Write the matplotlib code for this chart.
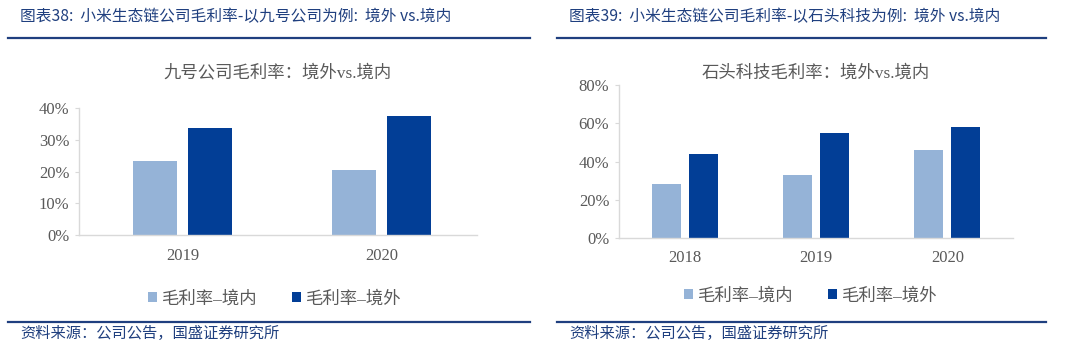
import matplotlib
matplotlib.use('Agg')
import matplotlib.pyplot as plt
from matplotlib.lines import Line2D
from matplotlib.ticker import FuncFormatter, MultipleLocator

plt.rcParams['font.family'] = ['Liberation Serif', 'Noto Sans CJK SC', 'DejaVu Sans']

# data (gross margin, %)
years_l = ['2019', '2020']
domestic_l = [23.2, 20.5]
overseas_l = [33.8, 37.6]

years_r = ['2018', '2019', '2020']
domestic_r = [28.3, 32.7, 46.1]
overseas_r = [43.7, 54.8, 58.0]

header_l = '图表38:  小米生态链公司毛利率-以九号公司为例:  境外 vs.境内'
header_r = '图表39:  小米生态链公司毛利率-以石头科技为例:  境外 vs.境内'
title_l = '九号公司毛利率：境外vs.境内'
title_r = '石头科技毛利率：境外vs.境内'
legend_labels = ['毛利率–境内', '毛利率–境外']
source = '资料来源：公司公告，国盛证券研究所'

LIGHT = '#95B3D7'
DARK = '#023E96'
NAVY = '#1F3F7F'
GREY = '#595959'
AX_GREY = '#D9D9D9'

W, H = 1068, 356
fig = plt.figure(figsize=(W / 100, H / 100), dpi=100)


def px(x0, y_top, x1, y_bot):
    return [x0 / W, 1 - y_bot / H, (x1 - x0) / W, (y_bot - y_top) / H]


def panel(rect, cats, dom, ovs, ymax, step, title, title_y, leg_xy, shift=0.0):
    ax = fig.add_axes(rect)
    n = len(cats)
    xs = list(range(n))
    w = 0.22
    off = 0.14
    b1 = ax.bar([x - off for x in xs], dom, w, color=LIGHT, label=legend_labels[0])
    b2 = ax.bar([x + off for x in xs], ovs, w, color=DARK, label=legend_labels[1])
    ax.set_xlim(-0.5 - shift, n - 0.5 - shift)
    ax.set_ylim(0, ymax)
    ax.yaxis.set_major_locator(MultipleLocator(step))
    ax.yaxis.set_major_formatter(FuncFormatter(lambda v, p: f'{v:.0f}%'))
    ax.set_xticks(xs)
    ax.set_xticklabels(cats)
    for s in ['top', 'right']:
        ax.spines[s].set_visible(False)
    for s in ['left', 'bottom']:
        ax.spines[s].set_color(AX_GREY)
        ax.spines[s].set_linewidth(1.0)
    ax.tick_params(axis='y', length=3, color=AX_GREY, labelsize=12, labelcolor=GREY, pad=4)
    ax.tick_params(axis='x', length=0, labelsize=12, labelcolor=GREY, pad=9)
    cx = rect[0] + rect[2] / 2
    fig.text(cx, 1 - title_y / H, title, ha='center', va='center', fontsize=12.5, color=GREY)
    fig.legend([b1, b2], legend_labels, loc='center', bbox_to_anchor=(leg_xy[0] / W, 1 - leg_xy[1] / H),
               ncol=2, frameon=False, fontsize=12.5, labelcolor=GREY, handlelength=0.5, handleheight=0.5,
               handletextpad=0.3, columnspacing=2.0)
    return ax


panel(px(79, 108, 477, 235), years_l, domestic_l, overseas_l, 40, 10, title_l, 73, (275, 299), shift=0.02)
panel(px(619, 85, 1013, 238), years_r, domestic_r, overseas_r, 80, 20, title_r, 73, (811, 296))

# headers and footers
for (x0, x1, tx, hdr) in [(8, 530, 20, header_l), (557, 1046, 569, header_r)]:
    fig.add_artist(Line2D([x0 / W, x1 / W], [1 - 38 / H, 1 - 38 / H], color=NAVY, lw=1.6))
    fig.add_artist(Line2D([x0 / W, x1 / W], [1 - 322 / H, 1 - 322 / H], color=NAVY, lw=1.6))
    fig.text(tx / W, 1 - 17 / H, hdr, ha='left', va='center', fontsize=11.3, color=NAVY,
             family=['Noto Sans CJK SC', 'DejaVu Sans'], style='italic')
    fig.text(tx / W, 1 - 333 / H, source, ha='left', va='center', fontsize=11, color=NAVY,
             family=['Noto Sans CJK SC', 'DejaVu Sans'], style='italic')

fig.savefig('out.png', dpi=100)
